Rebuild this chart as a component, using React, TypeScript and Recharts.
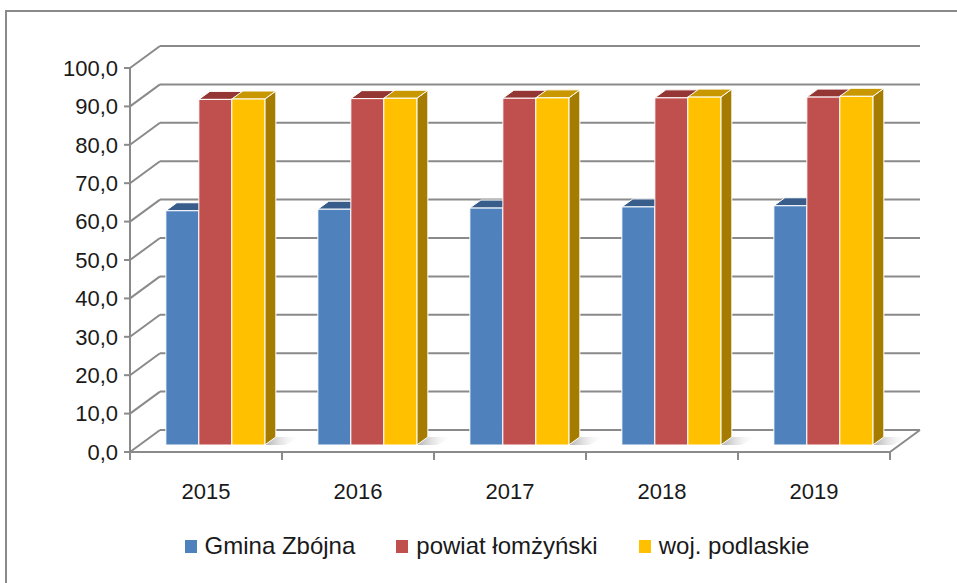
import { BarChart, Bar, XAxis, YAxis, CartesianGrid, Legend } from 'recharts';

const years = ['2015', '2016', '2017', '2018', '2019'];
const gminaZbojna = [61.0, 61.4, 61.7, 62.0, 62.3];
const powiatLomzynski = [90.0, 90.2, 90.3, 90.4, 90.6];
const wojPodlaskie = [90.1, 90.3, 90.4, 90.6, 90.8];
const yTicks = [0, 10, 20, 30, 40, 50, 60, 70, 80, 90, 100];

const data = years.map((year, i) => ({
  year,
  gmina: gminaZbojna[i],
  powiat: powiatLomzynski[i],
  woj: wojPodlaskie[i],
}));

const GRID = '#8a8a8a';
const FONT = '"Liberation Sans", Arial, sans-serif';
// depth of the back wall and of the bars
const WALL_DX = 30;
const WALL_DY = 22;
const BAR_OX = 10;
const BAR_OY = 7;
const BAR_DX = 11;
const BAR_DY = 8;

const makeBox = (front: string, top: string, side: string, shadow = false) => (p: any) => {
  const { x, y, width: w, height: h } = p;
  if (w == null || h == null) return <g />;
  const X = x + BAR_OX;
  const Y = y - BAR_OY;
  return (
    <g>
      {shadow && (
        <polygon
          points={`${X + w},${Y + h} ${X + w + BAR_DX},${Y + h - BAR_DY} ${X + w + BAR_DX + 26},${Y + h - BAR_DY} ${X + w + 20},${Y + h}`}
          fill="url(#floorShadow)"
        />
      )}
      <polygon
        points={`${X + w},${Y} ${X + w + BAR_DX},${Y - BAR_DY} ${X + w + BAR_DX},${Y + h - BAR_DY} ${X + w},${Y + h}`}
        fill={side}
        stroke="#fff"
        strokeWidth={1}
      />
      <polygon
        points={`${X},${Y} ${X + BAR_DX},${Y - BAR_DY} ${X + w + BAR_DX},${Y - BAR_DY} ${X + w},${Y}`}
        fill={top}
        stroke="#fff"
        strokeWidth={1}
      />
      <rect x={X} y={Y} width={w} height={h} fill={front} stroke="#fff" strokeWidth={1} />
    </g>
  );
};

const gridLine = (props: any) => {
  const { x1, x2, y1, index } = props;
  const isFloor = index === 0 || y1 > 445;
  return (
    <g key={`g-${index}-${y1}`}>
      <line x1={x1} y1={y1} x2={x1 + WALL_DX} y2={y1 - WALL_DY} stroke={GRID} strokeWidth={2} />
      <line x1={x1 + WALL_DX} y1={y1 - WALL_DY} x2={x2 + WALL_DX} y2={y1 - WALL_DY} stroke={GRID} strokeWidth={2} />
      {isFloor && y1 > 445 && (
        <line x1={x2} y1={y1} x2={x2 + WALL_DX} y2={y1 - WALL_DY} stroke={GRID} strokeWidth={2} />
      )}
    </g>
  );
};

const YearTick = (props: any) => {
  const { x, y, payload, index } = props;
  const half = payload.offset || 76;
  const axisY = y - 30;
  return (
    <g>
      <line x1={x - half} y1={axisY} x2={x - half} y2={axisY + 8} stroke={GRID} strokeWidth={2} />
      {index === years.length - 1 && (
        <line x1={x + half} y1={axisY} x2={x + half} y2={axisY + 8} stroke={GRID} strokeWidth={2} />
      )}
      <text x={x} y={y} dy="0.75em" textAnchor="middle" fontFamily={FONT} fontSize={22} fill="#1a1a1a">
        {payload.value}
      </text>
    </g>
  );
};

const LegendContent = (props: any) => {
  const { payload } = props;
  return (
    <div style={{ display: 'flex', justifyContent: 'center', gap: 41, paddingLeft: 37, fontFamily: FONT, fontSize: 24, color: '#1a1a1a' }}>
      {payload.map((item: any) => (
        <div key={item.value} style={{ display: 'flex', alignItems: 'center' }}>
          <span style={{ display: 'inline-block', width: 12, height: 13, background: item.color, marginRight: 8 }} />
          <span>{item.value}</span>
        </div>
      ))}
    </div>
  );
};

export default function App() {
  return (
    <div style={{ position: 'relative', width: 957, height: 583, background: '#fff', overflow: 'hidden' }}>
      <style>{`body{margin:0}`}</style>
      <div
        style={{
          position: 'absolute',
          left: 5,
          top: 10,
          width: 1000,
          height: 1000,
          borderLeft: `2px solid ${GRID}`,
          borderTop: `2px solid ${GRID}`,
        }}
      />
      <div style={{ position: 'absolute', left: 0, top: 0 }}>
        <BarChart
          width={957}
          height={583}
          data={data}
          margin={{ top: 68, right: 67, bottom: 0, left: 0 }}
          barCategoryGap="17%"
          barGap={0}
        >
          <defs>
            <linearGradient id="floorShadow" x1="0" y1="0" x2="1" y2="0">
              <stop offset="0%" stopColor="#9a9a9a" stopOpacity={0.8} />
              <stop offset="100%" stopColor="#ffffff" stopOpacity={0} />
            </linearGradient>
          </defs>
          <CartesianGrid vertical={false} horizontal={gridLine} />
          <XAxis
            dataKey="year"
            height={131}
            axisLine={{ stroke: GRID, strokeWidth: 2 }}
            tickLine={false}
            tickSize={8}
            tickMargin={22}
            tick={<YearTick />}
            interval={0}
          />
          <YAxis
            width={130}
            domain={[0, 100]}
            ticks={yTicks}
            interval={0}
            axisLine={{ stroke: GRID, strokeWidth: 2 }}
            tickLine={{ stroke: GRID, strokeWidth: 2 }}
            tickSize={6}
            tickMargin={6}
            tickFormatter={(v: number) => v.toFixed(1).replace('.', ',')}
            tick={{ fontFamily: FONT, fontSize: 22, fill: '#1a1a1a' }}
          />
          <Legend
            verticalAlign="middle"
            align="center"
            layout="horizontal"
            wrapperStyle={{ top: 532, left: 0, width: 957 }}
            content={<LegendContent />}
          />
          <Bar dataKey="gmina" name="Gmina Zbójna" fill="#4f81bd" isAnimationActive={false} shape={makeBox('#4f81bd', '#385d8a', '#385d8a')} />
          <Bar dataKey="powiat" name="powiat łomżyński" fill="#c0504d" isAnimationActive={false} shape={makeBox('#c0504d', '#943634', '#8c3836')} />
          <Bar dataKey="woj" name="woj. podlaskie" fill="#ffc000" isAnimationActive={false} shape={makeBox('#ffc000', '#c99700', '#a67c00', true)} />
        </BarChart>
      </div>
    </div>
  );
}
